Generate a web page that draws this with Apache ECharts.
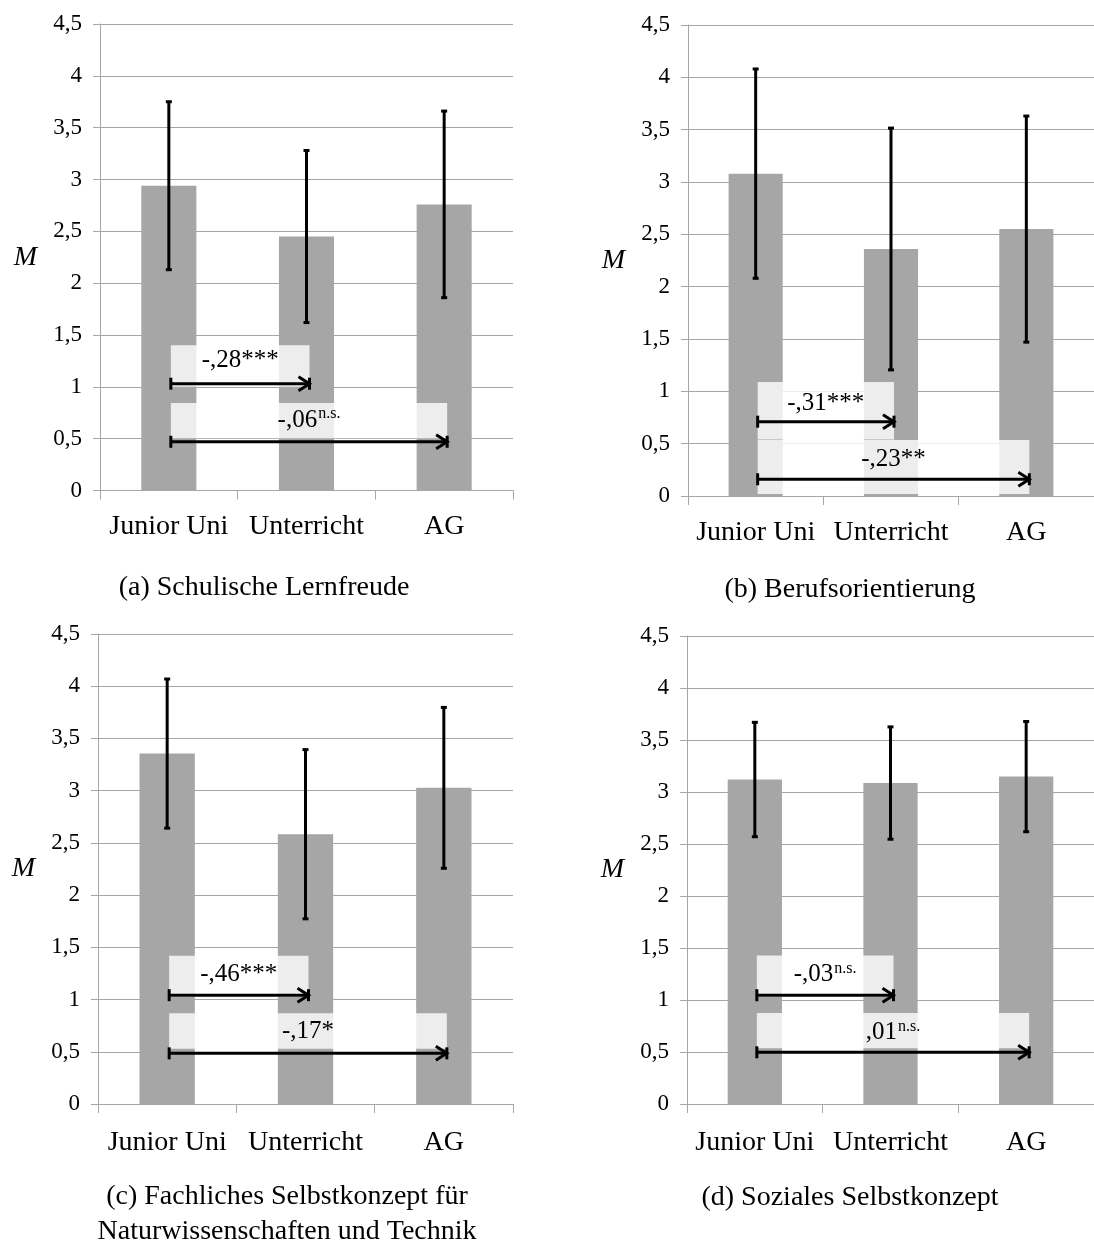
<!DOCTYPE html>
<html>
<head>
<meta charset="utf-8">
<script src="https://cdn.jsdelivr.net/npm/echarts@6/dist/echarts.min.js"></script>
<style>
  html, body { margin: 0; padding: 0; background: #fff; }
  #chart { width: 1094px; height: 1247px; }
</style>
</head>
<body>
<div id="chart"></div>
<script>
// ---------------- data ----------------
const categories = ['Junior Uni', 'Unterricht', 'AG'];
const yTickValues = [0, 0.5, 1, 1.5, 2, 2.5, 3, 3.5, 4, 4.5];

const meansA = [2.94, 2.45, 2.76];
const sdA    = [0.81, 0.83, 0.90];
const meansB = [3.08, 2.36, 2.55];
const sdB    = [1.00, 1.155, 1.08];
const meansC = [3.355, 2.583, 3.027];
const sdC    = [0.714, 0.81, 0.77];
const meansD = [3.12, 3.086, 3.148];
const sdD    = [0.55, 0.54, 0.53];

// effect sizes: comparison Junior Uni -> Unterricht, Junior Uni -> AG
const effectA = ['-,28', '-,06'];  const sigA = ['***', 'n.s.'];
const effectB = ['-,31', '-,23'];  const sigB = ['***', '**'];
const effectC = ['-,46', '-,17'];  const sigC = ['***', '*'];
const effectD = ['-,03', ',01'];   const sigD = ['n.s.', 'n.s.'];
const compFrom = [0, 0];
const compTo   = [1, 2];

const captions = [
  '(a) Schulische Lernfreude',
  '(b) Berufsorientierung',
  '(c) Fachliches Selbstkonzept für\nNaturwissenschaften und Technik',
  '(d) Soziales Selbstkonzept'
];

// ---------------- layout / style ----------------
const FONT = '"Liberation Serif", "Times New Roman", serif';
const GRID_COLOR = '#a6a6a6';
const BAR_COLOR = '#a6a6a6';

const panels = [
  { means: meansA, sd: sdA, eff: effectA, sig: sigA,
    grid: { left: 100, top: 24, width: 413, height: 466.5 }, labelMargin: 22,
    ann: [ { arrow: 1.03, top: 1.40, bottom: 1.00, text: 1.25 },
           { arrow: 0.47, top: 0.845, bottom: 0.505, text: 0.68 } ],
    caption: { x: 264, y: 588 } },
  { means: meansB, sd: sdB, eff: effectB, sig: sigB,
    grid: { left: 688, top: 25, width: 413, height: 471 }, labelMargin: 23,
    ann: [ { arrow: 0.71, top: 1.09, bottom: 0.54, text: 0.885 },
           { arrow: 0.16, top: 0.535, bottom: 0.02, text: 0.35 } ],
    caption: { x: 850, y: 590 } },
  { means: meansC, sd: sdC, eff: effectC, sig: sigC,
    grid: { left: 98, top: 634, width: 415, height: 470 }, labelMargin: 25,
    ann: [ { arrow: 1.042, top: 1.42, bottom: 1.025, text: 1.245 },
           { arrow: 0.485, top: 0.868, bottom: 0.53, text: 0.695 } ],
    caption: { x: 287, y: 1214 } },
  { means: meansD, sd: sdD, eff: effectD, sig: sigD,
    grid: { left: 687, top: 636, width: 413, height: 468 }, labelMargin: 25,
    ann: [ { arrow: 1.046, top: 1.427, bottom: 1.03, text: 1.244 },
           { arrow: 0.497, top: 0.874, bottom: 0.535, text: 0.689 } ],
    caption: { x: 850, y: 1198 } }
];

const grids = [], xAxes = [], yAxes = [], series = [], graphics = [];

panels.forEach((p, k) => {
  grids.push(Object.assign({ containLabel: false }, p.grid));

  xAxes.push({
    gridIndex: k, type: 'category', data: categories,
    axisLine: { show: true, lineStyle: { color: GRID_COLOR, width: 1 } },
    axisTick: { show: true, length: 9, interval: 0, alignWithLabel: false,
                lineStyle: { color: GRID_COLOR, width: 1 } },
    axisLabel: { interval: 0, fontFamily: FONT, fontSize: 28, color: '#000', margin: p.labelMargin },
    splitLine: { show: false }
  });

  yAxes.push({
    gridIndex: k, type: 'value', min: yTickValues[0], max: yTickValues[yTickValues.length - 1],
    interval: yTickValues[1] - yTickValues[0],
    axisLine: { show: true, lineStyle: { color: GRID_COLOR, width: 1 } },
    axisTick: { show: true, length: 7, lineStyle: { color: GRID_COLOR, width: 1 } },
    splitLine: { show: true, lineStyle: { color: GRID_COLOR, width: 1 } },
    axisLabel: { fontFamily: FONT, fontSize: 23, color: '#000', margin: 18,
                 formatter: v => String(v).replace('.', ',') },
    name: 'M', nameLocation: 'middle', nameRotate: 0, nameGap: 63,
    nameTextStyle: { fontFamily: FONT, fontStyle: 'italic', fontSize: 28, color: '#000' }
  });

  // bars
  series.push({
    type: 'bar', xAxisIndex: k, yAxisIndex: k, data: p.means,
    barWidth: '40%', itemStyle: { color: BAR_COLOR }, silent: true, z: 2
  });

  // annotation boxes + arrows
  const annData = compFrom.map((f, i) => [f, compTo[i], i]);
  series.push({
    type: 'custom', xAxisIndex: k, yAxisIndex: k, data: annData, z: 3, silent: true,
    clip: false,
    renderItem: (params, api) => {
      const i = api.value(2);
      const L = p.ann[i];
      const a0 = api.coord([api.value(0), L.arrow]);
      const a1 = api.coord([api.value(1), L.arrow]);
      const t = api.coord([api.value(0), L.top])[1];
      const b = api.coord([api.value(0), L.bottom])[1];
      const ty = api.coord([api.value(0), L.text])[1];
      const x0 = a0[0] + 2, x1 = a1[0] + 3, y = a0[1];
      const sig = p.sig[i];
      const isSup = sig === 'n.s.';
      const txt = isSup ? '{m|' + p.eff[i] + '}{s|' + sig + '}' : '{m|' + p.eff[i] + sig + '}';
      const lw = 3;
      return {
        type: 'group',
        children: [
          { type: 'rect', shape: { x: x0, y: t, width: x1 - x0, height: b - t },
            style: { fill: 'rgba(255,255,255,0.8)' } },
          { type: 'line', shape: { x1: x0, y1: y, x2: x1, y2: y },
            style: { stroke: '#000', lineWidth: lw } },
          { type: 'line', shape: { x1: x0, y1: y - 6, x2: x0, y2: y + 6 },
            style: { stroke: '#000', lineWidth: lw } },
          { type: 'line', shape: { x1: x1, y1: y - 6, x2: x1, y2: y + 6 },
            style: { stroke: '#000', lineWidth: lw } },
          { type: 'polyline', shape: { points: [[x1 - 11, y - 7], [x1, y], [x1 - 11, y + 7]] },
            style: { stroke: '#000', lineWidth: lw, fill: null } },
          { type: 'text', x: (x0 + x1) / 2, y: ty,
            style: { text: txt, align: 'center', verticalAlign: 'middle',
                     rich: {
                       m: { fontFamily: FONT, fontSize: 25, fill: '#000', lineHeight: 28 },
                       s: { fontFamily: FONT, fontSize: 16, fill: '#000', lineHeight: 16,
                            verticalAlign: 'top', padding: [0, 0, 0, 1] }
                     } } }
        ]
      };
    }
  });

  // error bars
  const errData = p.means.map((m, i) => [i, m - p.sd[i], m + p.sd[i]]);
  series.push({
    type: 'custom', xAxisIndex: k, yAxisIndex: k, data: errData, z: 4, silent: true,
    clip: false,
    renderItem: (params, api) => {
      const lo = api.coord([api.value(0), api.value(1)]);
      const hi = api.coord([api.value(0), api.value(2)]);
      const x = lo[0];
      const cw = 3;
      return {
        type: 'group',
        children: [
          { type: 'line', shape: { x1: x, y1: lo[1], x2: x, y2: hi[1] },
            style: { stroke: '#000', lineWidth: 3 } },
          { type: 'line', shape: { x1: x - cw, y1: lo[1], x2: x + cw, y2: lo[1] },
            style: { stroke: '#000', lineWidth: 3 } },
          { type: 'line', shape: { x1: x - cw, y1: hi[1], x2: x + cw, y2: hi[1] },
            style: { stroke: '#000', lineWidth: 3 } }
        ]
      };
    }
  });

  graphics.push({
    type: 'text', x: p.caption.x, y: p.caption.y, silent: true,
    style: { text: captions[k], fontFamily: FONT, fontSize: 28, fill: '#000',
             align: 'center', verticalAlign: 'middle', lineHeight: 35 }
  });
});

const chart = echarts.init(document.getElementById('chart'), null, { renderer: 'canvas' });
chart.setOption({
  animation: false,
  backgroundColor: '#fff',
  grid: grids,
  xAxis: xAxes,
  yAxis: yAxes,
  series: series,
  graphic: graphics
});
</script>
</body>
</html>
